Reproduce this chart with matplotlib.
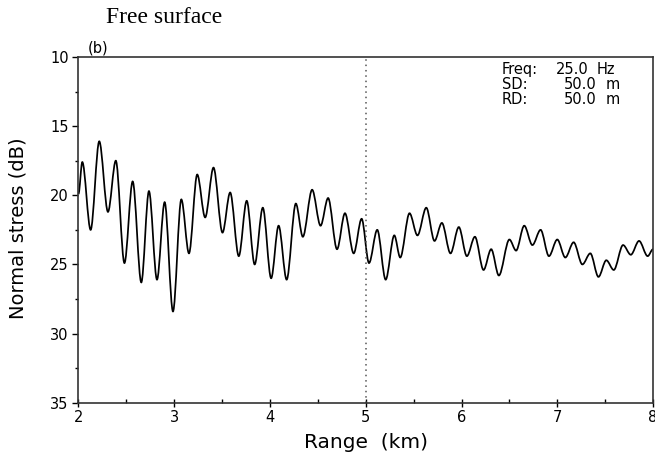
import matplotlib
matplotlib.use("Agg")
import matplotlib.pyplot as plt
from matplotlib.path import Path
from matplotlib.patches import PathPatch

# local extrema of the normal-stress curve
range_km = [
    2.00, 2.04, 2.127, 2.217, 2.308, 2.39, 2.48, 2.566, 2.656, 2.736, 2.82,
    2.90, 2.987, 3.074, 3.154, 3.24, 3.323, 3.41, 3.504, 3.584, 3.674, 3.757,
    3.84, 3.925, 4.012, 4.09, 4.174, 4.27, 4.343, 4.44, 4.528, 4.607, 4.70,
    4.783, 4.874, 4.957, 5.034, 5.12, 5.208, 5.298, 5.36, 5.457, 5.54, 5.632,
    5.718, 5.795, 5.885, 5.972, 6.056, 6.14, 6.23, 6.31, 6.39, 6.50, 6.57,
    6.655, 6.74, 6.826, 6.913, 7.00, 7.084, 7.171, 7.262, 7.345, 7.43, 7.512,
    7.59, 7.687, 7.768, 7.854, 7.944, 8.00,
]
stress_db = [
    19.9, 17.6, 22.5, 16.1, 21.2, 17.5, 24.9, 19.0, 26.3, 19.7, 26.1,
    20.5, 28.4, 20.3, 24.2, 18.5, 21.6, 18.0, 22.7, 19.8, 24.4, 20.4,
    25.0, 20.9, 26.0, 22.2, 26.1, 20.6, 23.0, 19.6, 22.2, 20.2, 23.9,
    21.3, 24.2, 21.7, 24.9, 22.5, 26.1, 22.9, 24.5, 21.3, 22.9, 20.9,
    23.3, 22.0, 24.2, 22.3, 24.4, 23.0, 25.4, 23.9, 25.8, 23.2, 24.0,
    22.2, 23.6, 22.5, 24.4, 23.2, 24.5, 23.4, 25.0, 24.2, 25.9, 24.7,
    25.4, 23.6, 24.3, 23.3, 24.4, 23.9,
]

x_ticks = [2, 3, 4, 5, 6, 7, 8]
y_ticks = [10, 15, 20, 25, 30, 35]
source_range = 5.0
info_labels = ["Freq:", "SD:", "RD:"]
info_values = ["25.0", "50.0", "50.0"]
info_units = ["Hz", "m", "m"]

fig = plt.figure(figsize=(6.55, 4.57), dpi=100)
ax = fig.add_axes([0.1198, 0.1188, 0.8772, 0.7565])

# smooth curve: cubic segments with flat tangents at each extremum
verts = [(range_km[0], stress_db[0])]
codes = [Path.MOVETO]
for i in range(1, len(range_km)):
    x0, y0 = range_km[i - 1], stress_db[i - 1]
    x1, y1 = range_km[i], stress_db[i]
    dx = x1 - x0
    verts += [(x0 + dx / 3, y0), (x1 - dx / 3, y1), (x1, y1)]
    codes += [Path.CURVE4] * 3
ax.add_patch(PathPatch(Path(verts, codes), fill=False, edgecolor="k", lw=1.25))

ax.axvline(source_range, color="#555555", ls=(0, (1, 2.5)), lw=1.1)

ax.set_xlim(2, 8)
ax.set_ylim(35, 10)
ax.set_xticks(x_ticks)
ax.set_yticks(y_ticks)
ax.set_xticks([t + 0.5 for t in x_ticks[:-1]], minor=True)
ax.set_yticks([t + 2.5 for t in y_ticks[:-1]], minor=True)
ax.tick_params(axis="x", which="major", direction="inout", length=6, width=1,
               labelsize=10.5, pad=2)
ax.tick_params(axis="x", which="minor", direction="in", length=3, width=1)
ax.tick_params(axis="y", which="major", direction="out", length=4, width=1,
               labelsize=10.5, pad=3)
ax.tick_params(axis="y", which="minor", direction="out", length=2, width=1)
for s in ax.spines.values():
    s.set_linewidth(1.2)
    s.set_color("#333333")

ax.text(0.0165, 1.026, "(b)", transform=ax.transAxes, fontsize=10.5,
        ha="left", va="center")
for k, (lab, val, unit) in enumerate(zip(info_labels, info_values, info_units)):
    yy = 0.965 - 0.044 * k
    ax.text(0.737, yy, lab, transform=ax.transAxes, fontsize=10.5, va="center")
    xv = 0.888 if k == 0 else 0.902
    ax.text(xv, yy, val, transform=ax.transAxes, fontsize=10.5, va="center",
            ha="right")
    xu = 0.9025 if k == 0 else 0.918
    ax.text(xu, yy, unit, transform=ax.transAxes, fontsize=10.5, va="center")

fig.text(0.25, 0.962, "Free surface", family="Liberation Serif", fontsize=17,
         ha="center", va="center")
fig.text(0.559, 0.031, "Range  (km)", fontsize=14.5, ha="center", va="center")
fig.text(0.0275, 0.501, "Normal stress (dB)", fontsize=14, rotation=90,
         ha="center", va="center")

fig.savefig("out.png", dpi=100)
